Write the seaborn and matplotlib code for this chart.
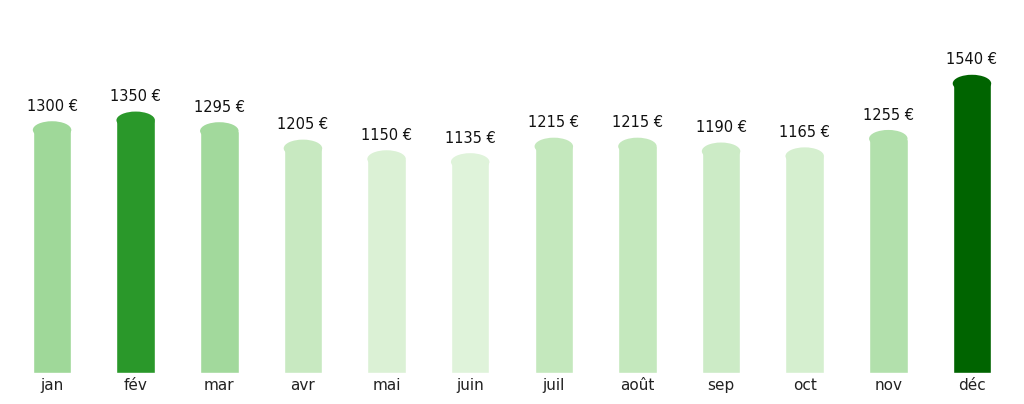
import matplotlib
matplotlib.use('Agg')
import numpy as np
import pandas as pd
import matplotlib.pyplot as plt
from matplotlib.patches import Ellipse
import seaborn as sns

# Données
mois = ['jan', 'fév', 'mar', 'avr', 'mai', 'juin', 'juil', 'août', 'sep', 'oct', 'nov', 'déc']
montants = [1300, 1350, 1295, 1205, 1150, 1135, 1215, 1215, 1190, 1165, 1255, 1540]

# Couleurs : dégradé de verts, mise en avant des deux plus gros mois
ordre = np.argsort(montants)[::-1]
autres = [m for i, m in enumerate(montants) if i not in ordre[:2]]
vmin, vmax = min(autres), max(autres)
cmap = plt.get_cmap('Greens')
couleurs = []
for i, m in enumerate(montants):
    if i == ordre[0]:
        couleurs.append('#006400')
    elif i == ordre[1]:
        couleurs.append('#2a982a')
    else:
        couleurs.append(cmap(0.15 + (m - vmin) / (vmax - vmin) * 0.23))

rayon = 45  # demi-hauteur de l'arrondi (unités de données)
df = pd.DataFrame({'mois': mois, 'montant': montants})
df['corps'] = df['montant'] - rayon

sns.set_style('white')
plt.rcParams['font.family'] = ['DejaVu Sans']
fig = plt.figure(figsize=(10.24, 4.04), dpi=100)
ax = fig.add_axes([0.01, 0.077, 0.98, 0.874])
sns.barplot(data=df, x='mois', y='corps', hue='mois', palette=couleurs,
            legend=False, width=0.46, ax=ax, saturation=1)

# Arrondi du haut des barres
for barre, val, c in zip(ax.patches, montants, couleurs):
    xc = barre.get_x() + barre.get_width() / 2
    ax.add_patch(Ellipse((xc, val - rayon), barre.get_width(), 2 * rayon,
                         facecolor=c, edgecolor='none'))
    ax.text(xc, val + 38, f'{val} €', ha='center', va='bottom', fontsize=10.5, color='#111111')

ax.set_ylim(0, 1824)
ax.set_xlim(-0.5, 11.5)
ax.set_xlabel('')
ax.set_ylabel('')
ax.set_yticks([])
ax.tick_params(axis='x', length=0, labelsize=11, labelcolor='#222222', pad=4)
sns.despine(ax=ax, left=True, bottom=True)

plt.savefig('out.png', dpi=100)
